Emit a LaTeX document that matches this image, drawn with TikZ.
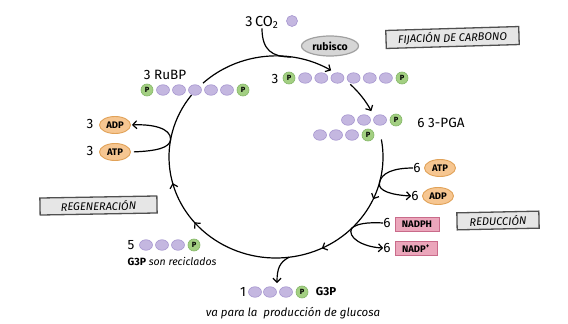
\documentclass[tikz,border=0pt]{standalone}
\usepackage{fontspec}
\setmainfont{Fira Sans}
\usetikzlibrary{arrows.meta,decorations.markings,backgrounds,shapes.geometric}
\definecolor{lav}{HTML}{C4B7E0}
\definecolor{lavd}{HTML}{A696CF}
\definecolor{pg}{HTML}{A3CF82}
\definecolor{pgd}{HTML}{84B767}
\definecolor{org}{HTML}{F6C691}
\definecolor{orgd}{HTML}{E1A258}
\definecolor{pnk}{HTML}{EBA6BB}
\definecolor{pnkd}{HTML}{C96B8A}
\definecolor{boxf}{HTML}{E6E6E6}
\definecolor{boxd}{HTML}{505050}
\definecolor{rubf}{HTML}{D6D6D6}
\definecolor{rubd}{HTML}{A0A0A0}
\begin{document}
\begin{tikzpicture}[x=1pt,y=-1pt,
  carb/.style={ellipse, fill=lav, draw=lavd, line width=0.6pt, minimum width=13pt, minimum height=10.5pt, inner sep=0pt},
  phos/.style={circle, fill=pg, draw=pgd, line width=0.6pt, minimum size=12pt, inner sep=0pt, font=\fontsize{7.5}{7.5}\selectfont\bfseries},
  chainlink/.style={draw=lavd, line width=0.9pt},
  cyc/.style={line width=1.2pt, black},
  tipa/.style={-{Straight Barb[length=4pt,width=8pt]}},
  energy/.style={ellipse, fill=org, draw=orgd, line width=0.9pt, minimum width=31pt, minimum height=17pt, inner sep=0pt, font=\fontsize{9.5}{9.5}\selectfont\bfseries},
  redbox/.style={rectangle, fill=pnk, draw=pnkd, line width=0.9pt, minimum height=14pt, inner sep=1pt, font=\fontsize{9.5}{9.5}\selectfont\bfseries},
  stage/.style={rectangle, fill=boxf, draw=boxd, line width=1.3pt, font=\fontsize{11}{11}\selectfont\itshape, inner sep=0pt},
  lbl/.style={font=\fontsize{13.5}{13.5}\selectfont, inner sep=0pt},
  slbl/.style={font=\fontsize{10.5}{10.5}\selectfont, inner sep=0pt},
  midarrows/.style={postaction={decorate}, decoration={markings,
     mark=at position 0.149 with {\arrow{Straight Barb[length=4pt,width=8pt]}},
     mark=at position 0.325 with {\arrow{Straight Barb[length=4pt,width=8pt]}},
     mark=at position 0.662 with {\arrow{Straight Barb[length=4pt,width=8pt]}},
     mark=at position 0.772 with {\arrow{Straight Barb[length=4pt,width=8pt]}}}}
]
\useasboundingbox (0,0) rectangle (568,324);
\fill[white] (0,0) rectangle (568,324);

% ---- cycle
\coordinate (O) at (276,157);
\draw[cyc, tipa] (O) ++(-133:107 and 101) arc[start angle=-133, end angle=-59, x radius=107, y radius=101];
\draw[cyc, tipa] (O) ++(-46:107 and 101) arc[start angle=-46, end angle=-27, x radius=107, y radius=101];
\draw[cyc, midarrows] (O) ++(-10:107 and 101) arc[start angle=-10, end angle=218, x radius=107, y radius=101];
\path (O) ++(-82:107 and 101) coordinate (cj);
\path (O) ++(15:107 and 101) coordinate (jatp);
\path (O) ++(45:107 and 101) coordinate (jnad);
\path (O) ++(83:107 and 101) coordinate (jg3p);
\path (O) ++(-170:107 and 101) coordinate (jl);
\coordinate (g3ptip) at (277,283);

% ---- top: CO2 and rubisco
\node[lbl, font=\fontsize{14.5}{14.5}\selectfont] (co2) at (262,22) {3\,CO\textsubscript{2}};
\node[carb, minimum width=11pt, minimum height=11pt] (co2c) at (292,21) {};
\node[ellipse, fill=rubf, draw=rubd, line width=1.2pt, minimum width=57pt, minimum height=20pt, inner sep=0pt, font=\fontsize{10.5}{10.5}\selectfont\bfseries] (rub) at (330,46) {rubisco};
\node[stage, minimum width=133pt, minimum height=18pt, rotate=1.7] (fij) at (452.5,37.5) {FIJACIÓN DE CARBONO};

% ---- top chain (3 P-6C-P)
\node[lbl] (n3top) at (275,79) {3};
\node[phos] (tp1) at (289,78) {P};
\foreach \i in {1,...,6} \node[carb] (t\i) at ({289+16.15*\i},78) {};
\node[phos] (tp2) at (402,78) {P};

% ---- RuBP chain
\node[lbl] (rubpl) at (165,75) {3 RuBP};
\node[phos] (rp1) at (147,90) {P};
\foreach \i/\x in {1/163,2/179,3/195,4/211,5/227} \node[carb] (r\i) at (\x,90) {};
\node[phos] (rp2) at (243,90) {P};

% ---- 3-PGA chains
\foreach \i/\x in {1/348,2/364,3/380} \node[carb] (pa\i) at (\x,120) {};
\node[phos] (pap) at (396,120) {P};
\foreach \i/\x in {1/320,2/336,3/352} \node[carb] (pb\i) at (\x,135) {};
\node[phos] (pbp) at (368,135) {P};
\node[lbl] (pgal) at (441,123) {6 3-PGA};

% ---- right ATP / ADP
\node[lbl] (n6atp) at (417,168) {6};
\node[energy] (atp6) at (440,168) {ATP};
\node[lbl] (n6adp) at (415,196) {6};
\node[energy] (adp6) at (438,196) {ADP};

% ---- NADPH / NADP+
\node[lbl] (n6nadph) at (387,223) {6};
\node[redbox, minimum width=44pt] (nadph) at (417,224) {NADPH};
\node[lbl] (n6nadp) at (387,248) {6};
\node[redbox, minimum width=42pt] (nadp) at (416,248.5) {NADP\textsuperscript{+}};
\node[stage, minimum width=82pt, minimum height=17pt, rotate=1.2] (redu) at (498,220.5) {REDUCCIÓN};

% ---- left ADP / ATP
\node[lbl] (n3adp) at (90,124) {3};
\node[energy] (adp3) at (115,125) {ADP};
\node[lbl] (n3atp) at (90,151) {3};
\node[energy] (atp3) at (115,152) {ATP};
\node[stage, minimum width=117pt, minimum height=17pt, rotate=1] (regen) at (98.5,205.5) {REGENERACIÓN};

% ---- 5 G3P recycled
\node[lbl] (n5) at (131,245) {5};
\foreach \i/\x in {1/146,2/162,3/178} \node[carb] (g\i) at (\x,245) {};
\node[phos] (gp) at (194,245) {P};
\node[slbl] (recl) at (172,261) {\textbf{G3P} \textit{son reciclados}};

% ---- 1 G3P out
\node[lbl] (n1) at (243,292) {1};
\foreach \i/\x in {1/255,2/270,3/286} \node[carb] (h\i) at (\x,292) {};
\node[phos] (hp) at (302,292) {P};
\node[slbl, font=\fontsize{11.5}{11.5}\selectfont\bfseries] (g3pl) at (326,292) {G3P};
\node[slbl, font=\fontsize{11.5}{11.5}\selectfont] (prod) at (293,313) {\textit{va para la\ \ producción de glucosa}};

% ---- chain links
\begin{pgfonlayer}{background}
\draw[chainlink] (tp1) -- (tp2);
\draw[chainlink] (rp1) -- (rp2);
\draw[chainlink] (pa1) -- (pap);
\draw[chainlink] (pb1) -- (pbp);
\draw[chainlink] (g1) -- (gp);
\draw[chainlink] (h1) -- (hp);
\end{pgfonlayer}

% ---- branches
\draw[cyc] (co2.south) .. controls (262,50) and (272,57) .. (cj);
\draw[cyc, tipa] (n6atp.west) .. controls (393,168) and (381,173) .. (jatp) .. controls (378,191) and (392,195) .. (n6adp.west);
\draw[cyc, tipa] (n6nadph.west) .. controls (366,222) and (356,224) .. (jnad) .. controls (347,237) and (362,247) .. (n6nadp.west);
\draw[cyc, tipa] (jg3p) .. controls (280,262) and (277,268) .. (g3ptip);
\draw[cyc, tipa, shorten <=3pt, shorten >=1pt] (atp3.east) .. controls (156,151) and (170,148) .. (jl) .. controls (171,128) and (152,124) .. (adp3.east);
\end{tikzpicture}
\end{document}
